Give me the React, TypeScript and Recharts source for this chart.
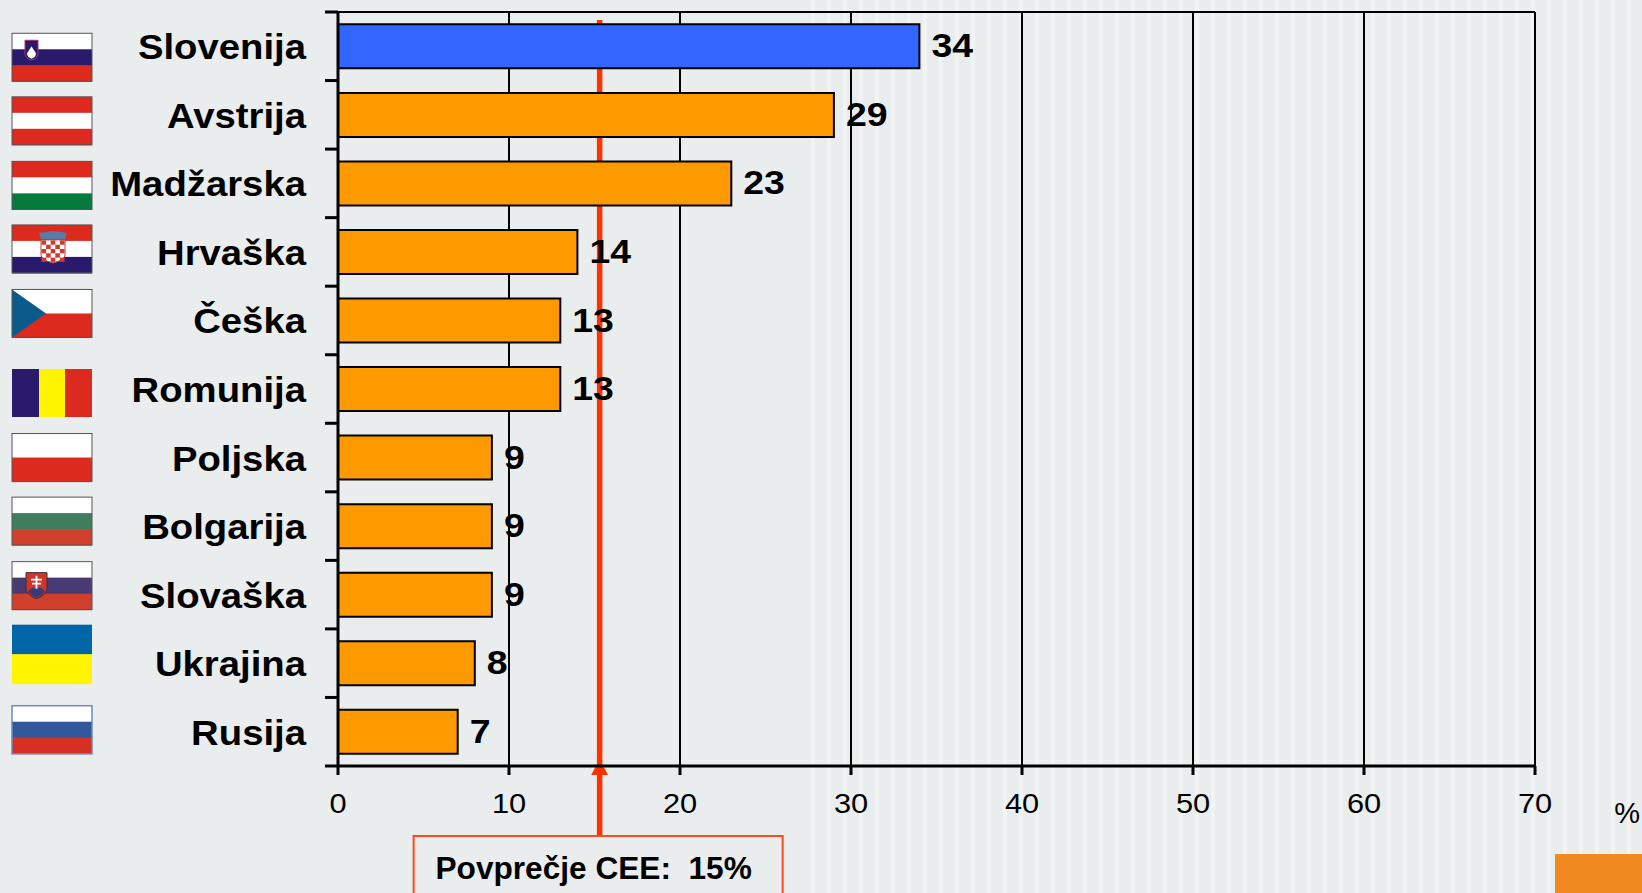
import { BarChart, Bar, XAxis, YAxis, CartesianGrid, Cell, LabelList, ReferenceLine } from "recharts";

const countries = ["Slovenija", "Avstrija", "Madžarska", "Hrvaška", "Češka", "Romunija", "Poljska", "Bolgarija", "Slovaška", "Ukrajina", "Rusija"];
const shares = [34, 29, 23, 14, 13, 13, 9, 9, 9, 8, 7];
const xTicks = [0, 10, 20, 30, 40, 50, 60, 70];
const averageValue = 15.3;
const averageLabel = "Povprečje CEE:  15%";
const unitLabel = "%";

const chartData = countries.map((name, i) => ({ name, share: shares[i] }));

const FONT = "'Liberation Sans', Arial, sans-serif";
const RED = "#ff3300";
const PLOT_TOP = 12;
const PLOT_HEIGHT = 754;
const bandStep = PLOT_HEIGHT / countries.length;

// flag artwork, stripes top to bottom
const flagStripes: Record<string, string[]> = {
  Slovenija: ["#ffffff", "#2a1a6e", "#dc2a1e"],
  Avstrija: ["#dc2a1e", "#ffffff", "#dc2a1e"],
  Madžarska: ["#dc2a1e", "#ffffff", "#047a3c"],
  Hrvaška: ["#dc2a1e", "#ffffff", "#2a1a6e"],
  Češka: ["#ffffff", "#dc2a1e"],
  Poljska: ["#ffffff", "#dc2a1e"],
  Bolgarija: ["#ffffff", "#3f7d5e", "#d0402c"],
  Slovaška: ["#ffffff", "#483a72", "#d0402c"],
  Ukrajina: ["#0066a8", "#fff500"],
  Rusija: ["#ffffff", "#32589c", "#d63024"],
};
const flagShift: Record<string, number> = {
  Slovenija: 11, Avstrija: 6, Madžarska: 2, Hrvaška: -3, Češka: -7, Romunija: 4,
  Poljska: 0, Bolgarija: -5, Slovaška: -9, Ukrajina: -9, Rusija: -2,
};

const Flag = ({ name }: { name: string }) => {
  const w = 80;
  const h = name === "Ukrajina" ? 59 : 48;
  const border = name === "Ukrajina" ? "none" : name === "Rusija" ? "#6a8abb" : "#555555";
  if (name === "Romunija") {
    return (
      <g>
        <rect width={27} height={h} fill="#2a1a6e" />
        <rect x={27} width={26} height={h} fill="#fff500" />
        <rect x={53} width={27} height={h} fill="#dc2a1e" />
      </g>
    );
  }
  const stripes = flagStripes[name];
  const sh = h / stripes.length;
  return (
    <g>
      {stripes.map((c, i) => (
        <rect key={i} y={i * sh} width={w} height={sh + 0.5} fill={c} />
      ))}
      {name === "Češka" && <path d="M0 0L34 24L0 48Z" fill="#0b5a8c" />}
      {name === "Slovenija" && (
        <g>
          <path d="M13 7H26V20Q26 25 19.5 27Q13 25 13 20Z" fill="#2a1a6e" stroke="#b03060" strokeWidth={1} />
          <path d="M15 20L17 17L19.5 13L22 17L24 20Q24 24 19.5 25.5Q15 24 15 20Z" fill="#ffffff" />
        </g>
      )}
      {name === "Hrvaška" && (
        <g>
          <path d="M27 8L33 7L41 6L49 7L55 8L53 14H29Z" fill="#5a7aa8" />
          <path d="M29 15H53V30Q53 35 41 38Q29 35 29 30Z" fill="#ffffff" stroke="#c84030" strokeWidth={1} />
          {[0, 1, 2, 3, 4].map(r =>
            [0, 1, 2, 3, 4].map(c =>
              (r + c) % 2 === 0 ? <rect key={`${r}-${c}`} x={29.5 + c * 4.6} y={15.5 + r * 4.3} width={4.6} height={4.3} fill="#d03a2c" /> : null
            )
          )}
        </g>
      )}
      {name === "Slovaška" && (
        <g>
          <path d="M14 11H35V27Q35 33 24.5 37Q14 33 14 27Z" fill="#d0342a" stroke="#333333" strokeWidth={1} />
          <path d="M16 30Q20 24 24.5 27Q29 24 33 30Q30 34 24.5 36Q19 34 16 30Z" fill="#3a3a7a" />
          <path d="M24.5 14V27M19 18H30M20 22H29" stroke="#ffffff" strokeWidth={1.8} />
        </g>
      )}
      {border !== "none" && <rect width={w} height={h} fill="none" stroke={border} strokeWidth={name === "Rusija" ? 1.5 : 1} />}
    </g>
  );
};

// y axis ticks sit on the band edges, the name and flag on the band centre
const CountryTick = ({ y, payload, index }: any) => {
  const name = payload.value as string;
  const h = name === "Ukrajina" ? 59 : 48;
  return (
    <g>
      <line x1={325} x2={338} y1={y + bandStep / 2} y2={y + bandStep / 2} stroke="#000000" strokeWidth={3} />
      {index === 0 && <line x1={325} x2={338} y1={y - bandStep / 2} y2={y - bandStep / 2} stroke="#000000" strokeWidth={3} />}
      <text transform={`translate(306 ${y + 13}) scale(1.11 1)`} textAnchor="end" fontFamily={FONT} fontWeight="bold" fontSize={34.5} fill="#000000">
        {name}
      </text>
      <g transform={`translate(12 ${y + flagShift[name] - h / 2})`}>
        <Flag name={name} />
      </g>
    </g>
  );
};

const ValueTick = ({ x, y, payload }: any) => (
  <text transform={`translate(${x} ${y + 24}) scale(1.1 1)`} textAnchor="middle" fontFamily={FONT} fontSize={28} fill="#000000">
    {payload.value}
  </text>
);

const ValueLabel = ({ x, y, width, height, value }: any) => (
  <text transform={`translate(${x + width + 12} ${y + height / 2 + 11}) scale(1.1 1)`} fontFamily={FONT} fontWeight="bold" fontSize={34} fill="#000000">
    {value}
  </text>
);

// average marker runs past the axis down into its callout box
const AverageMarker = ({ x1, y1, y2 }: any) => {
  const top = Math.min(y1, y2);
  const bottom = Math.max(y1, y2);
  const boxTop = 836;
  return (
    <g>
      <line x1={x1} x2={x1} y1={top + 8} y2={boxTop} stroke={RED} strokeWidth={5.5} />
      <path d={`M${x1 - 8.5} ${bottom + 9}L${x1 - 2} ${bottom - 3}L${x1 + 2} ${bottom - 3}L${x1 + 8.5} ${bottom + 9}Z`} fill={RED} />
      <rect x={x1 - 186} y={boxTop} width={369} height={70} fill="none" stroke="#ff4a1c" strokeWidth={2} />
      <text
        transform={`translate(${x1 - 6} 879) scale(1.02 1)`}
        textAnchor="middle"
        fontFamily={FONT}
        fontWeight="bold"
        fontSize={31}
        fill="#000000"
        style={{ whiteSpace: "pre" }}
      >
        {averageLabel}
      </text>
    </g>
  );
};

export default function App() {
  return (
    <div
      style={{
        position: "absolute",
        left: 0,
        top: 0,
        width: 1642,
        height: 893,
        overflow: "hidden",
        background: "#e9edee",
      }}
    >
      <div
        style={{
          position: "absolute",
          left: 811,
          top: 0,
          right: 0,
          bottom: 0,
          background: "repeating-linear-gradient(90deg, #f1f4f3 0 4px, #e9edee 4px 16px)",
        }}
      />
      <div style={{ position: "absolute", left: 1555, top: 854, width: 87, height: 39, background: "#f08a20" }} />
      <div style={{ position: "absolute", left: 0, top: 0 }}>
        <BarChart
          width={1642}
          height={893}
          data={chartData}
          layout="vertical"
          margin={{ top: PLOT_TOP, right: 107, bottom: 0, left: 0 }}
          barCategoryGap="18%"
        >
          <CartesianGrid horizontalPoints={[PLOT_TOP]} stroke="#000000" strokeWidth={2} />
          <XAxis
            type="number"
            domain={[0, 70]}
            ticks={xTicks}
            height={127}
            interval={0}
            stroke="#000000"
            strokeWidth={3}
            tickSize={9}
            tickMargin={14}
            tick={<ValueTick />}
            label={{ value: unitLabel, position: "insideBottomRight", offset: 0, dx: 105, dy: -70, fontFamily: FONT, fontSize: 29, fill: "#000000" }}
          />
          <YAxis
            type="category"
            dataKey="name"
            width={338}
            interval={0}
            stroke="#000000"
            strokeWidth={3}
            tickLine={false}
            tick={<CountryTick />}
          />
          <ReferenceLine x={averageValue} ifOverflow="visible" shape={<AverageMarker />} zIndex={-50} />
          <Bar dataKey="share" stroke="#000000" strokeWidth={2} isAnimationActive={false}>
            {chartData.map((d, i) => (
              <Cell key={d.name} fill={i === 0 ? "#3366ff" : "#ff9900"} />
            ))}
            <LabelList dataKey="share" content={<ValueLabel />} />
          </Bar>
        </BarChart>
      </div>
    </div>
  );
}
